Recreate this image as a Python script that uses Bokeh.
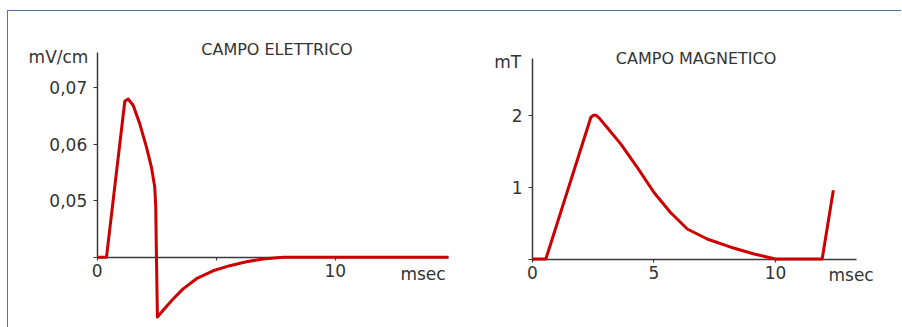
from bokeh.plotting import figure
from bokeh.models import Range1d, FixedTicker, Label
from bokeh.layouts import row
from bokeh.embed import file_html
from bokeh.resources import INLINE

# ---- data: electric field (left) ----
t_e = [0, 0.39, 1.16, 1.30, 1.51, 1.79, 2.07, 2.28, 2.42, 2.46, 2.49, 2.53,
       2.77, 3.19, 3.61, 4.17, 4.87, 5.57, 6.27, 6.97, 7.81, 14.76]
e_val = [0.04, 0.04, 0.0676, 0.0680, 0.0669, 0.0636, 0.0595, 0.0559, 0.0524,
         0.0488, 0.0400, 0.0294, 0.0306, 0.0326, 0.0344, 0.0362, 0.0376,
         0.0385, 0.0392, 0.0397, 0.0400, 0.0400]
e_yticks = [0.04, 0.05, 0.06, 0.07]
e_ylabels = ["", "0,05", "0,06", "0,07"]
e_xticks = [0, 5, 10]
e_xlabels = ["0", "", "10"]

# ---- data: magnetic field (right) ----
t_m = [0, 0.55, 2.40, 2.50, 2.62, 2.75, 3.07, 3.63, 4.31, 5.0, 5.68, 6.37,
       7.19, 8.16, 9.12, 10.0, 11.92, 12.38]
m_val = [0, 0, 1.98, 2.01, 2.01, 1.97, 1.84, 1.61, 1.28, 0.93, 0.65, 0.42,
         0.28, 0.165, 0.07, 0, 0, 0.96]
m_yticks = [0, 1, 2]
m_ylabels = ["", "1", "2"]
m_xticks = [0, 5, 10]
m_xlabels = ["0", "5", "10"]

titles = ["CAMPO ELETTRICO", "CAMPO MAGNETICO"]
units_y = ["mV/cm", "mT"]
unit_x = "msec"

FONT = "DejaVu Sans"
TXT = "#333333"
RED = "#cc0000"
AX = "#3a3a3a"


def style(p, xb, yb, xt, xl, yt, yl):
    p.grid.visible = False
    p.outline_line_color = None
    p.xaxis.fixed_location = yb[0]
    p.yaxis.fixed_location = xb[0]
    p.xaxis.bounds = xb
    p.yaxis.bounds = yb
    for ax in (p.xaxis[0], p.yaxis[0]):
        ax.axis_line_color = AX
        ax.axis_line_width = 1.5
        ax.major_tick_line_color = AX
        ax.major_tick_line_width = 1.2
        ax.major_tick_in = 0
        ax.minor_tick_line_color = None
        ax.major_label_text_font = FONT
        ax.major_label_text_font_size = "17px"
        ax.major_label_text_color = TXT
    p.xaxis.ticker = FixedTicker(ticks=xt)
    p.xaxis.major_label_overrides = dict(zip(xt, xl))
    p.xaxis.major_tick_out = 3
    p.xaxis.major_label_standoff = 4
    p.yaxis.ticker = FixedTicker(ticks=yt)
    p.yaxis.major_label_overrides = dict(zip(yt, yl))
    p.yaxis.major_tick_out = 4
    p.yaxis.major_label_standoff = 6


def lab(p, x, y, text, size, align):
    p.add_layout(Label(x=x, y=y, text=text, text_font=FONT,
                       text_font_size=size, text_color=TXT,
                       text_align=align, text_baseline="middle"))


# left figure
p1 = figure(width=443, height=316, output_backend="svg", toolbar_location=None,
            x_range=Range1d(-3.727, 14.887), y_range=Range1d(0.02756, 0.08349),
            min_border=0)
p1.line(t_e, e_val, line_color=RED, line_width=3, line_join="round",
        level="overlay")
style(p1, (0, 14.76), (0.04, 0.0762), e_xticks, e_xlabels, e_yticks, e_ylabels)
lab(p1, 7.55, 0.07676, titles[0], "16px", "center")
lab(p1, -0.37, 0.07552, units_y[0], "17px", "right")
lab(p1, 12.74, 0.0371, unit_x, "17px", "left")

# right figure
p2 = figure(width=450, height=316, output_backend="svg", toolbar_location=None,
            x_range=Range1d(-3.333, 15.185), y_range=Range1d(-0.958, 3.4615),
            min_border=0)
p2.line(t_m, m_val, line_color=RED, line_width=3, line_join="round",
        level="overlay")
style(p2, (0, 13.33), (0, 2.804), m_xticks, m_xlabels, m_yticks, m_ylabels)
lab(p2, 6.73, 2.804, titles[1], "16px", "center")
lab(p2, -0.465, 2.76, units_y[1], "17px", "right")
lab(p2, 12.18, -0.23, unit_x, "17px", "left")

layout = row(p1, p2, styles={"border-top": "1px solid #4a76a8",
                             "border-left": "1px solid #4a76a8",
                             "margin-top": "10px", "margin-left": "7px"})

open("out.html", "w").write(file_html(layout, INLINE))
